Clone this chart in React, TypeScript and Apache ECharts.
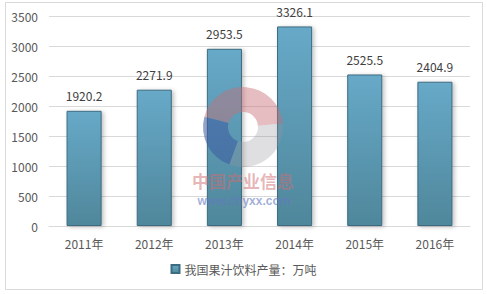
import React, { useEffect, useRef } from "react";
import * as echarts from "echarts";

const categories = ["2011年", "2012年", "2013年", "2014年", "2015年", "2016年"];
const values = [1920.2, 2271.9, 2953.5, 3326.1, 2525.5, 2404.9];
const seriesName = "我国果汁饮料产量：万吨";

const deg = (d: number) => (d * Math.PI) / 180;

export default function App() {
  const ref = useRef<HTMLDivElement>(null);
  useEffect(() => {
    if (!ref.current) return;
    const chart = echarts.init(ref.current, null, { renderer: "svg" });
    const font = "'Microsoft YaHei', 'Noto Sans CJK SC', sans-serif";
    chart.setOption({
      animation: false,
      textStyle: { fontFamily: font },
      graphic: [
        {
          type: "rect",
          shape: { x: 5.5, y: 2.5, width: 477, height: 287 },
          style: { fill: "none", stroke: "#d9d9d9", lineWidth: 1 },
          silent: true,
          z: -1,
        },
        {
          type: "sector",
          shape: { cx: 243, cy: 127, r: 40, r0: 15, startAngle: deg(-165), endAngle: deg(-5) },
          style: { fill: "rgba(200,110,120,0.45)" },
          silent: true,
          z: 100,
        },
        {
          type: "sector",
          shape: { cx: 243, cy: 127, r: 40, r0: 15, startAngle: deg(-5), endAngle: deg(110) },
          style: { fill: "rgba(150,150,160,0.3)" },
          silent: true,
          z: 100,
        },
        {
          type: "sector",
          shape: { cx: 243, cy: 127, r: 40, r0: 15, startAngle: deg(110), endAngle: deg(195) },
          style: { fill: "rgba(60,90,160,0.55)" },
          silent: true,
          z: 100,
        },
        {
          type: "text",
          x: 243,
          y: 180,
          style: {
            text: "中国产业信息",
            fill: "rgba(205,110,115,0.5)",
            font: "bold 17px 'Noto Sans CJK SC', sans-serif",
            align: "center",
            verticalAlign: "middle",
          },
          silent: true,
          z: 100,
        },
        {
          type: "text",
          x: 244,
          y: 201,
          style: {
            text: "www.chyxx.com",
            fill: "rgba(100,120,190,0.6)",
            font: "bold 12px 'Liberation Sans', sans-serif",
            align: "center",
            verticalAlign: "middle",
          },
          silent: true,
          z: 100,
        },
      ],
      legend: {
        bottom: 14,
        left: "center",
        itemWidth: 8,
        itemHeight: 8,
        itemGap: 4,
        textStyle: { color: "#595959", fontSize: 12, fontFamily: font },
        data: [{ name: seriesName, icon: "rect" }],
      },
      grid: { left: 49, right: 17, top: 16, bottom: 68 },
      xAxis: {
        type: "category",
        data: categories,
        axisLine: { lineStyle: { color: "#d9d9d9" } },
        axisTick: { show: false },
        axisLabel: { color: "#595959", fontSize: 12, margin: 11, fontFamily: font },
      },
      yAxis: {
        type: "value",
        min: 0,
        max: 3500,
        interval: 500,
        axisLine: { show: false },
        axisTick: { show: false },
        splitLine: { lineStyle: { color: "#d9d9d9" } },
        axisLabel: {
          color: "#595959",
          fontSize: 12,
          margin: 11,
          fontFamily: font,
          formatter: (v: number) => String(v),
        },
      },
      series: [
        {
          name: seriesName,
          type: "bar",
          data: values,
          barWidth: "50%",
          itemStyle: {
            color: new echarts.graphic.LinearGradient(0, 0, 0, 1, [
              { offset: 0, color: "#67a9c8" },
              { offset: 1, color: "#4f879b" },
            ]),
            borderColor: "#3d6b80",
            borderWidth: 1,
            shadowColor: "rgba(0,0,0,0.25)",
            shadowBlur: 4,
            shadowOffsetX: 2,
            shadowOffsetY: 1,
          },
          label: {
            show: true,
            position: "top",
            distance: 9,
            color: "#404040",
            fontSize: 12,
            fontFamily: font,
            formatter: (p: any) => p.value.toFixed(1),
          },
        },
      ],
    });
    return () => chart.dispose();
  }, []);
  return (
    <div
      ref={ref}
      style={{ position: "absolute", left: 0, top: 0, width: 487, height: 294 }}
    />
  );
}
